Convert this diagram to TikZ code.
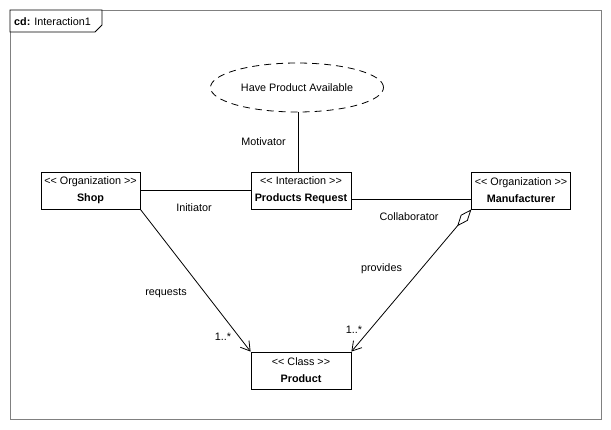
\documentclass[tikz,border=0pt]{standalone}
\usepackage{fontspec}
\setmainfont{Liberation Sans}
\usetikzlibrary{arrows.meta,shapes.geometric}
\newcommand\stereo[1]{<\kern0pt< #1 >\kern0pt>}

\tikzset{
	umlbox/.style={draw, line width=0.8pt, minimum width=99pt, minimum height=37pt, inner sep=0pt, align=center, font=\fontsize{10.8}{17}\selectfont},
	rolelabel/.style={font=\fontsize{10.8}{13}\selectfont, inner sep=0pt},
	assoc/.style={line width=0.8pt},
	navarrow/.style={-{Straight Barb[length=9pt,width=11pt,line width=0.8pt]}}
}

\begin{document}
\begin{tikzpicture}[x=1pt,y=-1pt]
			%%%%% FRAME %%%%%
			\useasboundingbox (0,0) rectangle (611,429);
			\draw[gray, line width=1pt] (10,10) rectangle (601,419);
			\draw[line width=0.8pt, fill=white] (10,10) -- (102,10) -- (102,25) -- (95,32) -- (10,32) -- cycle;
			\node[rolelabel, anchor=west] (tab) at (14,21.5) {\textbf{cd:} Interaction1};
			
			%%%%% NODES %%%%%
			\node[draw, ellipse, dashed, dash pattern=on 7pt off 5pt, line width=0.8pt, minimum width=173pt, minimum height=49pt, inner sep=0pt, font=\fontsize{10.8}{13}\selectfont] (goal) at (297,87.5) {Have Product Available};
			\node[umlbox] (shop) at (90.5,190.5) {\stereo{Organization}\\\textbf{Shop}};
			\node[umlbox, minimum width=100pt] (request) at (301,190.5) {\stereo{Interaction}\\\textbf{Products Request}};
			\node[umlbox, minimum width=98.5pt] (maker) at (521,190.5) {\stereo{Organization}\\\textbf{Manufacturer}};
			\node[umlbox, minimum width=100pt] (product) at (301,370.5) {\stereo{Class}\\\textbf{Product}};
			
			%%%%% LINKS %%%%%
			\draw[assoc] ([xshift=1pt]goal.south) -- ([xshift=1pt]goal.south |- request.north);
			\draw[assoc] (shop.east) -- (request.west);
			\draw[assoc] ([yshift=-8.5pt]request.east) -- ([yshift=-8.5pt]maker.west);
			\draw[assoc, navarrow] (shop.south east) -- (product.north west);
			\draw[assoc, {Diamond[open,length=22pt,width=9pt,line width=0.8pt]}-{Straight Barb[length=9pt,width=11pt,line width=0.8pt]}] (maker.south west) -- (product.north east);
			
			%%%%% LABELS %%%%%
			\node[rolelabel] (motiv) at (263.5,142) {Motivator};
			\node[rolelabel] (init) at (194,208) {Initiator};
			\node[rolelabel] (collab) at (409,217) {Collaborator};
			\node[rolelabel] (prov) at (381.5,268.5) {provides};
			\node[rolelabel] (req) at (166,293) {requests};
			\node[rolelabel] (multl) at (223,337) {1..*};
			\node[rolelabel] (multr) at (354,330) {1..*};
\end{tikzpicture}
\end{document}
